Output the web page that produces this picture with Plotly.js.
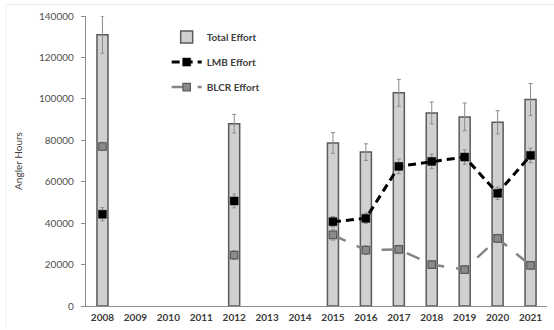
<!DOCTYPE html>
<html>
<head>
<meta charset="utf-8">
<script src="https://cdn.plot.ly/plotly-3.0.1.min.js"></script>
<style>
  html, body { margin: 0; padding: 0; background: #ffffff; }
  #chart { width: 554px; height: 330px; }
</style>
</head>
<body>
<div id="chart"></div>
<script>
// Survey years (categories) and effort estimates in angler hours
const years = ['2008', '2009', '2010', '2011', '2012', '2013', '2014',
               '2015', '2016', '2017', '2018', '2019', '2020', '2021'];

const totalEffort = [131000, null, null, null, 88000, null, null,
                     78700, 74300, 102900, 93200, 91300, 88700, 99700];
const totalErr    = [9000, null, null, null, 4500, null, null,
                     5000, 4000, 6500, 5300, 6700, 5600, 7700];

const lmbEffort   = [44300, null, null, null, 50700, null, null,
                     40700, 42300, 67400, 69800, 71900, 54400, 72700];
const lmbErr      = [3200, null, null, null, 3300, null, null,
                     2500, 2500, 3500, 3500, 3500, 3000, 3500];

const blcrEffort  = [77000, null, null, null, 24600, null, null,
                     34300, 27000, 27300, 20000, 17600, 32600, 19600];
const blcrErr     = [2000, null, null, null, 2000, null, null,
                     2500, 2000, 2000, 1800, 1800, 2000, 1800];

const yTicks = [0, 20000, 40000, 60000, 80000, 100000, 120000, 140000];

const errStyle = (arr) => ({
  type: 'data', array: arr, visible: true,
  color: '#8c8c8c', thickness: 1, width: 2
});

const traces = [
  {
    type: 'bar', name: 'Total Effort', x: years, y: totalEffort,
    legend: 'legend',
    marker: { color: '#d0d0d0', line: { color: '#5a5a5a', width: 1.5 } },
    error_y: errStyle(totalErr)
  },
  {
    type: 'scatter', mode: 'lines+markers', name: 'LMB Effort',
    legend: 'legend2',
    x: years, y: lmbEffort, connectgaps: false,
    line: { color: '#000000', width: 3, dash: '8px,5px' },
    marker: { symbol: 'square', size: 8, color: '#000000',
              line: { color: '#000000', width: 0.5 } },
    error_y: errStyle(lmbErr)
  },
  {
    type: 'scatter', mode: 'lines+markers', name: 'BLCR Effort',
    legend: 'legend3',
    x: years, y: blcrEffort, connectgaps: false,
    line: { color: '#858585', width: 2.5, dash: '14px,12px' },
    marker: { symbol: 'square', size: 7.5, color: '#8a8a8a',
              line: { color: '#5a5a5a', width: 1.2 } },
    error_y: errStyle(blcrErr)
  }
];

const font = 'Lato, "Open Sans", "Liberation Sans", sans-serif';

const legendBase = (y) => ({
  x: 0.175, y: y, xanchor: 'left', yanchor: 'middle',
  bgcolor: 'rgba(0,0,0,0)', borderwidth: 0,
  itemwidth: 30,
  font: { family: font, size: 10, color: '#404040', weight: 'bold' }
});

const layout = {
  width: 554, height: 330,
  margin: { l: 86, r: 7, t: 16, b: 24, pad: 0, autoexpand: false },
  paper_bgcolor: '#ffffff', plot_bgcolor: '#ffffff',
  font: { family: font, color: '#404040', size: 10 },
  showlegend: true,
  bargap: 0.665,
  xaxis: {
    type: 'category', categoryorder: 'array', categoryarray: years,
    range: [-0.5, years.length - 0.5], autorange: false,
    automargin: false,
    showline: true, linecolor: '#8c8c8c', linewidth: 1.2,
    ticks: '', showgrid: false, zeroline: false,
    tickfont: { family: font, size: 10, color: '#3a3a3a', weight: 'bold' },
    ticklabelstandoff: 2
  },
  yaxis: {
    range: [0, 140000], autorange: false, tickvals: yTicks,
    ticktext: yTicks.map(String),
    automargin: false,
    showline: true, linecolor: '#8c8c8c', linewidth: 1.2,
    ticks: 'outside', ticklen: 4, tickcolor: '#8c8c8c',
    ticklabelstandoff: 5,
    showgrid: false, zeroline: false,
    tickfont: { family: font, size: 10, color: '#505050' },
    title: { text: 'Angler Hours', font: { family: font, size: 10, color: '#404040' }, standoff: 14 }
  },
  legend: legendBase(0.928),
  legend2: legendBase(0.841),
  legend3: legendBase(0.755),
  shapes: [
    { type: 'line', xref: 'paper', yref: 'paper', x0: -0.174, x1: 1.02,
      y0: 1.04, y1: 1.04, line: { color: '#ececec', width: 1 } },
    { type: 'line', xref: 'paper', yref: 'paper', x0: -0.174, x1: -0.174,
      y0: 1.04, y1: -0.08, line: { color: '#efefef', width: 1 } }
  ]
};

Plotly.newPlot('chart', traces, layout, { displayModeBar: false, staticPlot: true });
</script>
</body>
</html>
